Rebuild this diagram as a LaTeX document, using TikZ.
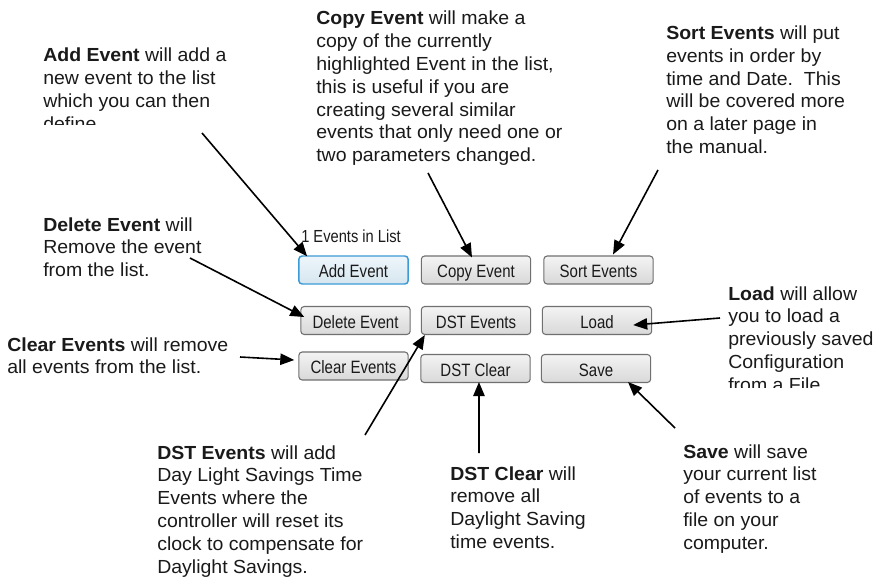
\documentclass[tikz,border=0pt]{standalone}
\usepackage{fontspec}
\setmainfont[FakeStretch=1.03]{Liberation Sans}
\newfontfamily\btnfont[FakeStretch=0.84]{Liberation Sans}
\usetikzlibrary{arrows.meta}
\definecolor{txt}{HTML}{1A1A1A}
\definecolor{btnborder}{HTML}{707070}
\definecolor{btntop}{HTML}{F4F4F4}
\definecolor{btnbot}{HTML}{D8D8D8}
\definecolor{selborder}{HTML}{3C9BD6}
\definecolor{seltop}{HTML}{EEF6FB}
\definecolor{selbot}{HTML}{D6E6EF}
\newcommand{\blk}[1]{\begin{tabular}[t]{@{}l@{}}#1\end{tabular}}
\begin{document}
\begin{tikzpicture}[x=0.75pt,y=-0.75pt,
  desc/.style={anchor=base west, inner sep=0pt, text=txt,
    font=\fontsize{14.2}{17.1}\selectfont},
  btn/.style={draw=btnborder, line width=0.8pt, rounded corners=2.5pt,
    top color=btntop, bottom color=btnbot, minimum width=82pt,
    minimum height=21pt, inner sep=0pt, text=txt,
    text height=11.5pt, text depth=0pt,
    font=\btnfont\fontsize{13.4}{15}\selectfont},
  selbtn/.style={btn, draw=selborder, line width=1.1pt, top color=seltop, bottom color=selbot},
  arr/.style={line width=1.2pt, -{Triangle[length=10.5pt,width=8.5pt]}}]
\useasboundingbox (0,0) rectangle (892,588);
\fill[white] (0,0) rectangle (892,588);

% buttons
\node[selbtn] (add) at (353.5,270) {Add Event};
\node[btn] (copy) at (476,270) {Copy Event};
\node[btn] (sort) at (598.5,270) {Sort Events};
\node[btn] (delete) at (355.5,320.5) {Delete Event};
\node[btn] (dstev) at (476,320.5) {DST Events};
\node[btn] (load) at (597,320.5) {Load};
\node[btn] (clear) at (353.5,366) {Clear Events};
\node[btn] (dstcl) at (475.5,368.5) {DST Clear};
\node[btn] (save) at (596,368.5) {Save};
\node[anchor=base west, inner sep=0pt, text=txt, font=\btnfont\fontsize{13.1}{15}\selectfont] (count) at (301,242) {1 Events in List};

% descriptions
\begin{scope}
\clip (0,0) rectangle (300,125);
\node[desc] (tadd) at (43,62) {\blk{\textbf{Add Event} will add a\\new event to the list\\which you can then\\define}};
\end{scope}
\node[desc] (tcopy) at (316,25) {\blk{\textbf{Copy Event} will make a\\copy of the currently\\highlighted Event in the list,\\this is useful if you are\\creating several similar\\events that only need one or\\two parameters changed.}};
\node[desc] (tsort) at (666,39.5) {\blk{\textbf{Sort Events} will put\\events in order by\\time and Date.\ \ This\\will be covered more\\on a later page in\\the manual.}};
\node[desc] (tdelete) at (43,231) {\blk{\textbf{Delete Event} will\\Remove the event\\from the list.}};
\node[desc] (tclear) at (7,351) {\blk{\textbf{Clear Events} will remove\\all events from the list.}};
\begin{scope}
\clip (700,270) rectangle (892,387);
\node[desc] (tload) at (728,300) {\blk{\textbf{Load} will allow\\you to load a\\previously saved\\Configuration\\from a File.}};
\end{scope}
\node[desc] (tdstev) at (157,459) {\blk{\textbf{DST Events} will add\\Day Light Savings Time\\Events where the\\controller will reset its\\clock to compensate for\\Daylight Savings.}};
\node[desc] (tdstcl) at (450,480) {\blk{\textbf{DST Clear} will\\remove all\\Daylight Saving\\time events.}};
\node[desc] (tsave) at (683,458) {\blk{\textbf{Save} will save\\your current list\\of events to a\\file on your\\computer.}};

% arrow tails
\coordinate (aadd) at (202,133);
\coordinate (acopy) at (428,173);
\coordinate (asort) at (658,170);
\coordinate (adelete) at (190,258);
\coordinate (aclear) at (240,357);
\coordinate (aload) at (720,318);
\coordinate (adstev) at (365,435);
\coordinate (adstcl) at (479,453);
\coordinate (asave) at (675,428);

% arrows
\draw[arr] (aadd) -- ([xshift=6.75pt,yshift=-0.75pt]add.north west);
\draw[arr] (acopy) -- ([xshift=-3pt,yshift=-1.5pt]copy.north);
\draw[arr] (asort) -- ([xshift=10.9pt,yshift=0.75pt]sort.north);
\draw[arr] (adelete) -- ([xshift=3pt,yshift=2.6pt]delete.west);
\draw[arr] (aclear) -- ([xshift=-3pt,yshift=4.5pt]clear.west);
\draw[arr] (aload) -- ([xshift=-14.25pt,yshift=-3.4pt]load.east);
\draw[arr] (adstev) -- ([xshift=3pt]dstev.south west);
\draw[arr] (adstcl) -- ([xshift=2.6pt,yshift=0.75pt]dstcl.south);
\draw[arr] (asave) -- ([xshift=24pt,yshift=0.75pt]save.south);
\end{tikzpicture}
\end{document}
